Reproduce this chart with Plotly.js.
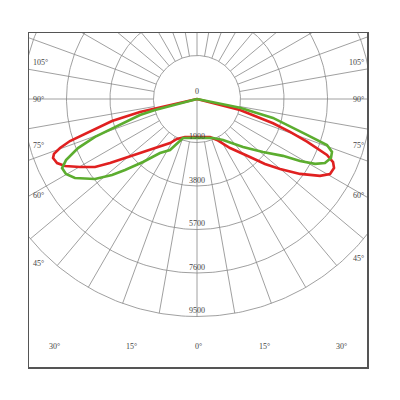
<!DOCTYPE html>
<html>
<head>
<meta charset="utf-8">
<script src="https://cdn.plot.ly/plotly-3.0.1.min.js"></script>
<style>html,body{margin:0;padding:0;background:#fff;}#chart{width:400px;height:400px;}</style>
</head>
<body>
<div id="chart"></div>
<script>
// ---- data (luminous intensity, cd; angle from nadir, degrees) ----
const radialTicks = [1900, 3800, 5700, 7600, 9500];
const sideAngleLabels = [105, 90, 75, 60, 45];
const bottomAngleLabels = [-30, -15, 0, 15, 30];

const redAngles = [-90, -77.9, -77.2, -75.5, -73.3, -71.7, -70.3, -69.0, -67.7, -65.4, -63.1, -59.8, -56.3, -53.7, -50.7, -45.5, -40.6, -31.5, -26.6, -17.5, 0, 18.9, 26, 34, 42.4, 46.3, 49.9, 54, 58, 60.6, 63.3, 65.1, 66.7, 68.8, 70.5, 72.3, 75.6, 90];
const redValues = [0, 1878, 2555, 3835, 4879, 5844, 6355, 6692, 6796, 6722, 6464, 5910, 5355, 4717, 4062, 3306, 2817, 2254, 1952, 1738, 1660, 1756, 1992, 2581, 3429, 4106, 4743, 5565, 6333, 6670, 6700, 6552, 6180, 5154, 4311, 3486, 1939, 0];

const greenAngles = [-90, -75.3, -74.3, -70.6, -69.6, -67.6, -65.0, -62.9, -60.2, -57.1, -51.9, -48.2, -45.4, -40.6, -34.4, -27.9, -22.5, -19.7, 0, 22.3, 32.4, 43.8, 51.2, 56.5, 59, 61.2, 63.4, 66.2, 68.6, 70.5, 71.9, 76.0, 78.6, 90];
const greenValues = [0, 1896, 2586, 3935, 4752, 5621, 6312, 6622, 6595, 6351, 5665, 4979, 4416, 3625, 2861, 2520, 1939, 1808, 1690, 1843, 2118, 2905, 3695, 4499, 5250, 5883, 6250, 6394, 6333, 6023, 5054, 3420, 1917, 0];

// ---- geometry ----
const W = 400, H = 400;
const CX = 197, CY = 99;               // pole position (px)
const PX = 217.5 / 9500;               // px per cd
const L = 29, R = 367, T = 33, B = 367; // frame (px)
const toDX = px => (px - CX) / PX;
const toDY = py => (CY - py) / PX;
const rad = d => d * Math.PI / 180;
const polX = (g, r) => r * Math.sin(rad(g));
const polY = (g, r) => -r * Math.cos(rad(g));

function curve(angles, values) {
  return {
    x: angles.map((g, i) => polX(g, values[i])),
    y: angles.map((g, i) => polY(g, values[i]))
  };
}

// rings
const ringX = [], ringY = [];
radialTicks.forEach(r => {
  for (let a = 0; a <= 360; a += 1) { ringX.push(polX(a, r)); ringY.push(polY(a, r)); }
  ringX.push(null); ringY.push(null);
});
// spokes
const spokeX = [], spokeY = [];
const rMax = radialTicks[radialTicks.length - 1];
for (let a = 0; a < 360; a += 10) {
  const r0 = a === 0 ? 0 : radialTicks[0];
  spokeX.push(polX(a, r0), polX(a, rMax), null);
  spokeY.push(polY(a, r0), polY(a, rMax), null);
}

const gridColor = '#888888';
const red = curve(redAngles, redValues);
const green = curve(greenAngles, greenValues);

const traces = [
  {x: ringX, y: ringY, mode: 'lines', line: {color: gridColor, width: 0.8}, hoverinfo: 'skip', showlegend: false},
  {x: spokeX, y: spokeY, mode: 'lines', line: {color: gridColor, width: 0.8}, hoverinfo: 'skip', showlegend: false},
  {x: red.x, y: red.y, mode: 'lines', line: {color: '#e02020', width: 2.6}, showlegend: false, name: 'C0'},
  {x: green.x, y: green.y, mode: 'lines', line: {color: '#5cad2f', width: 2.6}, showlegend: false, name: 'C90'}
];

const font = {family: 'Liberation Serif, Times New Roman, serif', size: 8, color: '#444444'};
const annotations = [];
// radial labels
annotations.push({x: 0, y: 0, xref: 'x', yref: 'y', text: '0', showarrow: false, font, yshift: 8});
radialTicks.forEach(r => {
  annotations.push({x: 0, y: -r, xref: 'x', yref: 'y', text: String(r), showarrow: false, font, yshift: 6});
});
// side angle labels (near where each ray meets the frame)
const sideShift = {105: 8.5, 90: 0, 75: 1.5, 60: 0, 45: -4};
sideAngleLabels.forEach(g => {
  const yPx = CY + (CX - L) / Math.tan(rad(g)) + (sideShift[g] || 0);
  annotations.push({x: toDX(L + 2), y: toDY(yPx), xref: 'x', yref: 'y', xanchor: 'left', text: g + '°', showarrow: false, font});
  annotations.push({x: toDX(R - 1), y: toDY(yPx - (g === 45 ? 5 : 0)), xref: 'x', yref: 'y', xanchor: 'right', text: g + '°', showarrow: false, font});
});
// bottom angle labels
const bottomY = 346.7;
bottomAngleLabels.forEach(g => {
  const xPx = CX + 1 + (bottomY - CY) * Math.tan(rad(g));
  annotations.push({x: toDX(xPx), y: toDY(bottomY), xref: 'x', yref: 'y', text: Math.abs(g) + '°', showarrow: false, font});
});

const axisBase = {showgrid: false, zeroline: false, showticklabels: false, ticks: '', showline: true, mirror: true, linecolor: '#555', linewidth: 1.5, fixedrange: true};
const layout = {
  width: W, height: H,
  margin: {l: L, r: W - R, t: T, b: H - B, pad: 0},
  paper_bgcolor: '#fff', plot_bgcolor: '#fff',
  xaxis: Object.assign({range: [toDX(L), toDX(R)]}, axisBase),
  yaxis: Object.assign({range: [toDY(B), toDY(T)]}, axisBase),
  annotations,
  showlegend: false
};

Plotly.newPlot('chart', traces, layout, {staticPlot: true, displayModeBar: false});
</script>
</body>
</html>
